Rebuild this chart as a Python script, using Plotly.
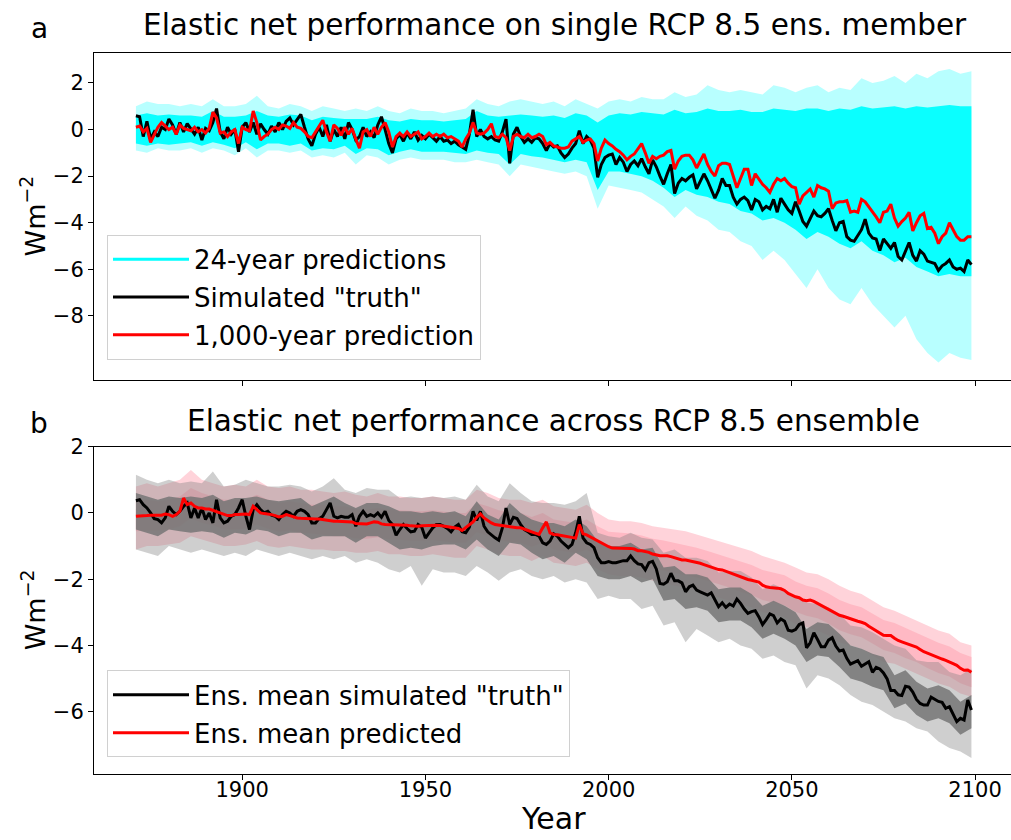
import plotly.graph_objects as go

# ---------------- data ----------------
years = list(range(1871, 2100))
env_years = list(range(1871, 2100, 3))

# Panel a: single ensemble member
truth_a = [
    0.59, 0.55, -0.3, 0.35, -0.4, -0.1, -0.3, 0.1, 0.0, 0.45,
    0.2, -0.2, 0.3, -0.1, 0.25, 0.0, -0.2, 0.1, -0.45, 0.05,
    -0.05, 0.3, 0.9, -0.1, -0.4, 0.1, -0.2, 0.0, -0.95, 0.1,
    0.3, -0.1, 0.3, -0.2, 0.25, 0.0, -0.2, 0.15, -0.1, 0.3,
    0.0, 0.35, 0.5, 0.2, 0.4, 0.65, 0.1, -0.4, -0.7, -0.2,
    0.1, -0.3, 0.2, -0.5, 0.0, -0.3, 0.1, -0.4, 0.3, 0.0,
    -0.45, -0.3, 0.1, -0.3, -0.1, -0.35, 0.2, 0.55, 0.0, -0.6,
    -1.0, -0.4, -0.2, -0.5, -0.15, -0.4, -0.1, -0.45, -0.25, -0.4,
    -0.2, -0.35, -0.5, -0.3, -0.5, -0.45, -0.6, -0.5, -0.65, -0.75,
    -0.85, -0.2, 0.85, -0.3, 0.0, -0.3, -0.4, -0.3, -0.45, -0.5,
    -0.1, 0.45, -1.45, -0.2, 0.1, -0.3, -0.55, -0.4, -0.55, -0.35,
    -0.4, -0.6, -0.9, -0.6, -0.75, -0.7, -1.0, -1.2, -1.05, -0.8,
    -0.6, -0.05, -0.6, -0.3, -0.45, -0.8, -2.05, -1.5, -1.2, -1.1,
    -1.05, -1.5, -1.2, -1.4, -1.8, -1.5, -1.35, -1.55, -1.25, -1.6,
    -1.9, -1.3, -1.6, -2.0, -2.35, -1.9, -1.5, -2.75, -2.3, -2.1,
    -2.2, -2.05, -1.95, -2.55, -2.2, -1.9, -2.2, -2.6, -2.95, -2.6,
    -2.1, -2.4, -2.4, -2.9, -3.2, -3.0, -2.9, -3.05, -3.45, -3.0,
    -3.1, -3.45, -3.3, -3.4, -3.0, -3.55, -2.95, -3.2, -3.45, -3.6,
    -3.1, -3.5, -3.95, -4.15, -3.8, -3.5, -3.7, -3.75, -3.6, -3.4,
    -3.9, -4.35, -4.0, -3.95, -4.6, -4.75, -4.8, -4.55, -4.3, -3.85,
    -4.45, -4.65, -4.7, -5.2, -4.7, -4.9, -5.1, -4.85, -5.45, -5.6,
    -5.2, -4.85, -5.4, -5.65, -5.2, -5.35, -5.65, -5.7, -5.75, -6.05,
    -5.85, -5.75, -5.6, -5.9, -6.0, -5.95, -6.1, -5.6, -5.8,
]
pred_a = [
    0.1, 0.15, -0.1, 0.05, -0.55, -0.2, 0.1, 0.3, 0.15, 0.0,
    0.1, -0.2, 0.2, 0.05, 0.0, -0.05, 0.1, -0.1, 0.0, -0.15,
    0.05, 0.75, 0.5, -0.15, -0.1, -0.3, -0.1, 0.0, -0.6, 0.1,
    0.0, -0.05, 0.8, 0.3, -0.45, -0.3, -0.2, 0.0, 0.1, 0.0,
    0.2, 0.15, 0.05, 0.3, 0.1, 0.05, -0.1, -0.3, -0.35, -0.1,
    0.1, 0.4, -0.1, -0.5, 0.2, 0.05, -0.25, 0.1, -0.2, 0.05,
    -0.4, -0.8, -0.1, 0.0, -0.3, 0.1, -0.2, 0.1, 0.3, -0.1,
    -0.75, -0.3, -0.15, -0.3, -0.1, -0.3, -0.2, -0.1, -0.4, -0.3,
    -0.15, -0.3, -0.2, -0.3, -0.2, -0.35, -0.3, -0.4, -0.5, -0.75,
    -0.4, -0.15, 0.3, -0.15, -0.2, -0.15, 0.0, 0.25, -0.3, -0.35,
    -0.2, -0.35, -0.9, -0.3, -0.2, -0.3, -0.35, -0.2, -0.35, -0.3,
    -0.2, -0.3, -0.65, -0.55, -0.7, -0.75, -0.8, -0.8, -0.75, -0.5,
    -0.4, -0.3, -0.55, -0.45, -0.4, -0.6, -1.35, -0.8, -0.45, -0.6,
    -0.7, -0.85, -0.95, -1.1, -1.3, -1.15, -1.05, -0.85, -0.6, -1.0,
    -1.45, -1.15, -1.25, -1.15, -1.1, -0.95, -0.9, -1.7, -1.35, -1.15,
    -1.1, -1.1, -1.3, -1.65, -1.35, -1.05, -1.5, -1.8, -2.0, -1.55,
    -1.45, -1.45, -1.5, -2.0, -2.5, -2.1, -1.7, -1.7, -2.4, -1.9,
    -2.15, -2.35, -2.5, -2.7, -2.35, -2.1, -2.2, -2.1, -2.3, -2.45,
    -2.5, -3.2, -2.85, -2.7, -2.55, -2.9, -2.4, -2.5, -2.55, -2.65,
    -3.4, -3.15, -3.1, -3.1, -3.05, -3.55, -3.5, -3.55, -3.0, -3.1,
    -3.3, -3.55, -3.75, -4.0, -3.55, -3.5, -3.2, -3.8, -4.15, -3.95,
    -3.8, -3.55, -4.35, -4.0, -3.7, -3.6, -4.25, -4.2, -4.45, -4.9,
    -4.6, -4.45, -4.0, -4.3, -4.6, -4.75, -4.75, -4.6, -4.6,
]
# spread of the 24-year predictions (every 3rd year)
a_hi_out = [
    1.0, 1.2, 1.1, 1.1, 1.0, 1.1, 1.0, 1.3, 1.0, 1.0,
    1.1, 1.45, 1.0, 0.9, 1.1, 1.0, 0.8, 1.0, 0.9, 0.8,
    0.9, 0.8, 1.0, 0.8, 0.7, 0.9, 0.8, 0.8, 0.7, 0.8,
    0.9, 1.3, 1.1, 1.0, 1.2, 1.3, 1.2, 1.1, 1.2, 1.0,
    1.3, 1.1, 0.9, 1.2, 1.3, 1.2, 1.4, 1.3, 1.3, 1.6,
    1.4, 1.5, 1.9, 1.7, 1.6, 1.7, 1.6, 1.5, 1.9, 1.8,
    1.6, 1.8, 1.9, 1.6, 1.8, 1.7, 2.2, 2.0, 2.1, 2.3,
    2.0, 2.4, 2.2, 2.5, 2.6, 2.4, 2.5,
]
a_lo_out = [
    -0.9, -1.0, -0.8, -0.9, -0.9, -0.8, -1.0, -0.8, -0.9, -1.1,
    -0.8, -1.2, -0.9, -0.9, -1.0, -0.9, -1.2, -1.1, -1.2, -1.0,
    -1.5, -1.1, -1.2, -1.5, -1.3, -1.2, -1.3, -1.3, -1.3, -1.4,
    -1.4, -1.3, -1.4, -1.5, -2.0, -1.5, -1.6, -1.7, -1.8, -1.9,
    -1.8, -2.0, -3.4, -2.4, -2.5, -2.6, -2.7, -3.0, -3.3, -3.8,
    -3.3, -3.7, -3.9, -4.3, -4.4, -4.8, -5.0, -5.6, -5.2, -5.6,
    -6.2, -6.8, -6.0, -6.8, -7.3, -7.5, -6.8, -7.5, -8.0, -8.5,
    -8.0, -9.0, -9.6, -10.0, -9.6, -9.8, -9.9,
]
a_hi_core = [
    0.6, 0.7, 0.6, 0.65, 0.6, 0.6, 0.55, 0.8, 0.55, 0.55,
    0.6, 0.8, 0.6, 0.55, 0.65, 0.6, 0.4, 0.55, 0.5, 0.45,
    0.45, 0.45, 0.55, 0.4, 0.35, 0.45, 0.4, 0.4, 0.35, 0.4,
    0.45, 0.8, 0.6, 0.55, 0.6, 0.65, 0.6, 0.55, 0.6, 0.5,
    0.7, 0.6, 0.3, 0.6, 0.7, 0.65, 0.75, 0.7, 0.65, 0.85,
    0.7, 0.75, 0.9, 0.8, 0.8, 0.85, 0.75, 0.75, 0.9, 0.85,
    0.8, 0.9, 0.9, 0.8, 0.9, 0.85, 1.0, 0.9, 0.95, 1.0,
    0.9, 1.0, 0.95, 1.0, 1.05, 1.0, 1.0,
]
a_lo_core = [
    -0.6, -0.7, -0.6, -0.65, -0.6, -0.55, -0.7, -0.55, -0.65, -0.8,
    -0.55, -0.85, -0.6, -0.6, -0.7, -0.6, -0.9, -0.8, -0.85, -0.7,
    -1.05, -0.8, -0.85, -1.1, -0.95, -0.85, -0.95, -0.95, -0.95, -1.0,
    -1.05, -0.9, -1.0, -1.05, -1.5, -1.05, -1.15, -1.2, -1.3, -1.4,
    -1.3, -1.4, -2.6, -1.8, -1.8, -1.9, -2.0, -2.2, -2.5, -2.9,
    -2.6, -2.8, -2.9, -3.1, -3.2, -3.5, -3.6, -3.9, -3.8, -4.0,
    -4.3, -4.7, -4.4, -4.6, -4.9, -5.1, -4.8, -5.2, -5.4, -5.7,
    -5.5, -5.9, -6.1, -6.3, -6.2, -6.3, -6.3,
]

# Panel b: ensemble means
truth_b = [
    0.37, 0.4, 0.25, 0.15, 0.0, -0.17, -0.2, -0.3, -0.15, 0.2,
    0.05, -0.05, 0.05, 0.2, 0.3, -0.15, 0.15, -0.15, 0.15, -0.2,
    0.0, -0.3, 0.4, -0.15, -0.3, -0.25, -0.1, -0.05, 0.15, 0.4,
    -0.1, -0.5, 0.1, 0.25, 0.1, 0.0, 0.05, -0.07, -0.1, -0.2,
    -0.05, 0.05, 0.0, -0.1, 0.05, 0.1, 0.05, -0.05, -0.3, -0.3,
    -0.17, -0.1, 0.1, 0.3, -0.1, -0.15, -0.1, -0.13, -0.13, -0.05,
    -0.4, -0.1, 0.05, -0.1, -0.05, -0.1, 0.0, -0.13, 0.05, -0.23,
    -0.35, -0.67, -0.5, -0.35, -0.47, -0.57, -0.55, -0.35, -0.43, -0.76,
    -0.6, -0.45, -0.35, -0.35, -0.4, -0.47, -0.57, -0.43, -0.35, -0.57,
    -0.6, -0.43, 0.05, -0.23, 0.05, -0.4, -0.57, -0.67, -0.75, -0.82,
    -0.45, 0.15, -0.35, -0.13, -0.17, -0.35, -0.5, -0.57, -0.65, -0.65,
    -0.7, -0.9, -0.95, -0.85, -0.63, -0.7, -0.85, -0.95, -1.05, -0.95,
    -0.6, -0.1, -0.75, -0.9, -0.95, -1.05, -1.35, -1.5, -1.5, -1.47,
    -1.5, -1.5, -1.46, -1.44, -1.44, -1.3, -1.44, -1.54, -1.56, -1.72,
    -1.5, -1.46, -1.69, -2.13, -2.15, -2.08, -1.82, -2.05, -2.05, -2.11,
    -2.38, -2.23, -2.18, -2.33, -2.38, -2.43, -2.48, -2.41, -2.6, -2.83,
    -2.71, -2.85, -2.75, -2.81, -2.6, -2.73, -2.9, -3.03, -2.98, -2.95,
    -3.14, -3.37, -3.22, -3.05, -3.1, -3.32, -3.2, -3.27, -3.54, -3.57,
    -3.52, -3.37, -3.32, -4.07, -3.92, -3.62, -3.82, -4.04, -4.04, -3.84,
    -3.77, -4.02, -4.17, -4.14, -4.39, -4.56, -4.51, -4.46, -4.63, -4.56,
    -4.49, -4.81, -4.66, -4.71, -4.83, -5.01, -5.36, -5.36, -5.49, -5.51,
    -5.23, -5.26, -5.41, -5.63, -5.75, -5.8, -5.8, -5.56, -5.63, -5.69,
    -5.72, -5.9, -5.85, -6.1, -6.3, -6.2, -6.25, -5.65, -5.95,
]
pred_b = [
    -0.1, -0.1, -0.08, -0.08, -0.07, -0.07, -0.08, -0.07, -0.03, -0.05,
    -0.1, -0.05, 0.05, 0.45, 0.25, 0.3, 0.2, 0.15, 0.15, 0.12,
    0.12, 0.08, 0.05, 0.0, -0.05, -0.08, -0.08, -0.05, -0.05, -0.03,
    -0.03, -0.05, 0.2, 0.1, 0.0, -0.02, -0.03, -0.05, -0.08, -0.12,
    -0.1, -0.05, -0.08, -0.12, -0.15, -0.16, -0.17, -0.17, -0.17, -0.18,
    -0.18, -0.2, -0.22, -0.22, -0.25, -0.25, -0.25, -0.25, -0.27, -0.27,
    -0.32, -0.33, -0.33, -0.33, -0.3, -0.27, -0.28, -0.33, -0.35, -0.35,
    -0.35, -0.35, -0.36, -0.37, -0.37, -0.39, -0.4, -0.4, -0.39, -0.38,
    -0.37, -0.37, -0.37, -0.38, -0.4, -0.41, -0.43, -0.45, -0.47, -0.53,
    -0.45, -0.35, -0.27, -0.13, -0.03, -0.15, -0.23, -0.3, -0.35, -0.37,
    -0.39, -0.41, -0.43, -0.43, -0.45, -0.45, -0.5, -0.53, -0.57, -0.6,
    -0.65, -0.45, -0.27, -0.6, -0.65, -0.66, -0.68, -0.71, -0.74, -0.76,
    -0.76, -0.35, -0.63, -0.66, -0.72, -0.79, -0.86, -0.92, -0.97, -1.02,
    -1.06, -1.06, -1.06, -1.06, -1.07, -1.07, -1.09, -1.14, -1.14, -1.16,
    -1.19, -1.24, -1.27, -1.29, -1.29, -1.29, -1.32, -1.36, -1.39, -1.42,
    -1.42, -1.44, -1.46, -1.5, -1.52, -1.56, -1.6, -1.64, -1.69, -1.71,
    -1.72, -1.76, -1.8, -1.84, -1.88, -1.93, -1.98, -2.01, -2.03, -2.06,
    -2.09, -2.18, -2.23, -2.25, -2.25, -2.27, -2.29, -2.34, -2.43, -2.49,
    -2.53, -2.56, -2.63, -2.65, -2.63, -2.67, -2.73, -2.78, -2.83, -2.89,
    -2.95, -3.03, -3.09, -3.12, -3.16, -3.21, -3.24, -3.27, -3.3, -3.34,
    -3.42, -3.49, -3.55, -3.62, -3.69, -3.7, -3.7, -3.78, -3.85, -3.89,
    -3.93, -3.95, -4.0, -4.05, -4.12, -4.19, -4.23, -4.28, -4.33, -4.38,
    -4.41, -4.45, -4.49, -4.55, -4.6, -4.69, -4.75, -4.74, -4.81,
]
# spread of members, simulated (grey) and predicted (pink), every 3rd year
g_hi_out = [
    1.15, 1.0, 0.9, 1.0, 0.9, 0.95, 0.9, 1.25, 0.8, 0.85,
    1.0, 0.9, 0.8, 0.8, 0.85, 0.8, 0.65, 0.8, 1.05, 0.7,
    0.6, 0.75, 0.7, 0.7, 0.45, 0.5, 0.45, 0.5, 0.45, 0.5,
    0.4, 0.85, 0.5, 0.35, 0.9, 0.6, 0.35, 0.3, 0.3, 0.25,
    0.35, 0.6, -0.6, -0.7, -0.75, -0.6, -0.75, -0.8, -1.2, -1.1,
    -1.35, -1.35, -1.45, -1.8, -1.75, -1.75, -1.95, -2.3, -2.15, -2.3,
    -2.55, -2.7, -2.75, -2.85, -3.05, -3.4, -3.45, -3.6, -3.8, -4.0,
    -4.1, -4.45, -4.5, -4.5, -4.8, -4.9, -4.7,
]
g_lo_out = [
    -1.1, -1.2, -1.3, -1.0, -1.1, -1.2, -1.1, -1.2, -1.3, -1.2,
    -1.3, -1.1, -1.2, -1.3, -1.2, -1.3, -1.4, -1.3, -1.4, -1.3,
    -1.5, -1.4, -1.5, -1.7, -1.8, -1.6, -2.2, -1.7, -1.8, -1.8,
    -1.9, -1.6, -1.8, -2.05, -1.8, -1.7, -1.9, -2.0, -1.9, -2.1,
    -2.0, -2.1, -2.6, -2.5, -2.6, -2.6, -2.9, -2.8, -3.4, -3.3,
    -3.9, -3.5, -3.7, -3.9, -3.8, -4.0, -4.1, -4.4, -4.3, -4.5,
    -4.6, -5.3, -4.9, -5.0, -5.2, -5.5, -5.7, -5.8, -6.0, -6.2,
    -6.3, -6.5, -6.6, -6.9, -7.1, -7.2, -7.4,
]
g_hi_core = [
    0.6, 0.5, 0.4, 0.5, 0.45, 0.5, 0.45, 0.55, 0.35, 0.45,
    0.45, 0.5, 0.4, 0.35, 0.4, 0.45, 0.2, 0.35, 0.5, 0.3,
    0.15, 0.3, 0.3, 0.2, 0.05, 0.05, 0.0, 0.05, 0.0, 0.05,
    -0.1, 0.35, -0.05, -0.2, 0.3, 0.0, -0.2, -0.3, -0.3, -0.4,
    -0.2, -0.4, -0.85, -1.0, -1.0, -0.9, -1.1, -1.05, -1.65, -1.6,
    -1.85, -1.85, -1.95, -2.3, -2.25, -2.25, -2.45, -2.8, -2.65, -2.8,
    -3.0, -3.5, -3.3, -3.35, -3.65, -4.0, -4.1, -4.25, -4.35, -4.9,
    -4.75, -5.1, -5.3, -5.2, -5.35, -5.7, -5.5,
]
g_lo_core = [
    -0.5, -0.6, -0.7, -0.5, -0.55, -0.6, -0.55, -0.6, -0.75, -0.6,
    -0.65, -0.5, -0.55, -0.7, -0.6, -0.6, -0.8, -0.7, -0.7, -0.7,
    -0.9, -0.7, -0.7, -0.9, -1.1, -1.05, -1.1, -1.0, -0.95, -0.95,
    -1.1, -0.8, -1.1, -1.3, -0.9, -0.95, -1.2, -1.4, -1.3, -1.5,
    -1.2, -1.4, -1.9, -2.0, -2.0, -1.9, -2.1, -2.0, -2.65, -2.6,
    -2.9, -2.85, -2.95, -3.3, -3.25, -3.25, -3.45, -3.8, -3.65, -3.8,
    -4.0, -4.5, -4.3, -4.35, -4.65, -5.0, -5.1, -5.25, -5.35, -5.9,
    -5.75, -6.1, -6.3, -6.2, -6.35, -6.7, -6.5,
]
p_hi_out = [
    0.8, 0.9, 0.8, 0.9, 1.0, 1.3, 1.0, 0.9, 0.8, 0.85,
    0.8, 1.0, 0.8, 0.75, 0.8, 0.7, 0.7, 0.65, 0.6, 0.65,
    0.55, 0.5, 0.6, 0.5, 0.5, 0.45, 0.45, 0.5, 0.45, 0.4,
    0.4, 0.7, 0.6, 0.45, 0.4, 0.4, 0.3, 0.4, 0.2, 0.15,
    0.1, 0.25, 0.0, -0.2, -0.25, -0.25, -0.3, -0.4, -0.45, -0.5,
    -0.55, -0.65, -0.75, -0.85, -0.95, -1.05, -1.15, -1.3, -1.4, -1.5,
    -1.65, -1.8, -1.85, -2.0, -2.2, -2.35, -2.45, -2.65, -2.85, -2.95,
    -3.1, -3.25, -3.4, -3.55, -3.65, -3.9, -4.0,
]
p_lo_out = [
    -1.1, -1.0, -1.0, -0.95, -0.9, -0.7, -0.8, -0.9, -1.0, -1.0,
    -0.95, -0.85, -1.0, -1.05, -1.0, -1.05, -1.1, -1.1, -1.15, -1.15,
    -1.2, -1.2, -1.15, -1.25, -1.25, -1.3, -1.3, -1.25, -1.3, -1.35,
    -1.35, -1.0, -1.1, -1.25, -1.3, -1.3, -1.45, -1.3, -1.5, -1.55,
    -1.6, -1.5, -1.7, -1.85, -1.9, -1.9, -1.95, -2.05, -2.1, -2.2,
    -2.25, -2.35, -2.45, -2.55, -2.65, -2.75, -2.85, -3.0, -3.05, -3.15,
    -3.35, -3.45, -3.55, -3.7, -3.9, -4.0, -4.1, -4.3, -4.5, -4.55,
    -4.7, -4.85, -5.0, -5.15, -5.25, -5.45, -5.55,
]
p_hi_core = [
    0.35, 0.4, 0.35, 0.4, 0.5, 0.75, 0.6, 0.5, 0.4, 0.4,
    0.4, 0.55, 0.4, 0.3, 0.35, 0.3, 0.25, 0.25, 0.2, 0.2,
    0.12, 0.1, 0.15, 0.1, 0.08, 0.05, 0.05, 0.08, 0.05, 0.0,
    0.0, 0.3, 0.2, 0.08, 0.02, 0.0, -0.12, 0.0, -0.2, -0.25,
    -0.3, -0.2, -0.4, -0.57, -0.6, -0.62, -0.68, -0.78, -0.83, -0.9,
    -0.96, -1.05, -1.15, -1.25, -1.35, -1.47, -1.57, -1.72, -1.8, -1.88,
    -2.07, -2.2, -2.27, -2.43, -2.63, -2.76, -2.85, -3.03, -3.23, -3.32,
    -3.47, -3.6, -3.77, -3.92, -4.03, -4.23, -4.35,
]
p_lo_core = [
    -0.55, -0.53, -0.53, -0.5, -0.4, -0.15, -0.3, -0.37, -0.5, -0.5,
    -0.48, -0.35, -0.48, -0.57, -0.53, -0.61, -0.62, -0.65, -0.7, -0.7,
    -0.77, -0.78, -0.73, -0.8, -0.81, -0.84, -0.84, -0.82, -0.85, -0.9,
    -0.9, -0.58, -0.68, -0.82, -0.88, -0.9, -1.02, -0.9, -1.1, -1.16,
    -1.21, -1.11, -1.31, -1.47, -1.51, -1.52, -1.59, -1.69, -1.74, -1.81,
    -1.87, -1.95, -2.05, -2.16, -2.25, -2.38, -2.48, -2.63, -2.7, -2.79,
    -2.98, -3.1, -3.18, -3.34, -3.54, -3.66, -3.75, -3.94, -4.14, -4.23,
    -4.38, -4.5, -4.68, -4.83, -4.94, -5.14, -5.26,
]

x_ticks = [1900, 1950, 2000, 2050, 2100]
ya_ticks = [2, 0, -2, -4, -6, -8]
yb_ticks = [2, 0, -2, -4, -6]

title_a = "Elastic net performance on single RCP 8.5 ens. member"
title_b = "Elastic net performance across RCP 8.5 ensemble"
names_a = ["24-year predictions", 'Simulated "truth"', "1,000-year prediction"]
names_b = ['Ens. mean simulated "truth"', "Ens. mean predicted"]

# ---------------- layout geometry (pixels) ----------------
W, H = 1011, 840
XL, XR = 94, 1011
A_T, A_B = 42, 373
B_T, B_B = 441, 773
FONT = "DejaVu Sans"

fig = go.Figure()


def band(hi, lo, color, xa, ya):
    fig.add_trace(go.Scatter(
        x=env_years + env_years[::-1], y=hi + lo[::-1],
        fill="toself", fillcolor=color, mode="lines", line=dict(width=0),
        hoverinfo="skip", showlegend=False, xaxis=xa, yaxis=ya))


# Panel a
band(a_hi_out, a_lo_out, "rgba(0,255,255,0.28)", "x", "y")
band(a_hi_core, a_lo_core, "rgba(0,255,255,0.95)", "x", "y")
fig.add_trace(go.Scatter(x=[None], y=[None], mode="lines", name=names_a[0],
                         line=dict(color="#00FFFF", width=3), legend="legend",
                         legendgroup="a1", xaxis="x", yaxis="y"))
fig.add_trace(go.Scatter(x=years, y=truth_a, mode="lines", name=names_a[1],
                         line=dict(color="black", width=3), legend="legend",
                         legendgroup="a2", xaxis="x", yaxis="y"))
fig.add_trace(go.Scatter(x=years, y=pred_a, mode="lines", name=names_a[2],
                         line=dict(color="red", width=3), legend="legend",
                         legendgroup="a3", xaxis="x", yaxis="y"))

# Panel b
band(p_hi_out, p_lo_out, "rgba(255,192,203,0.7)", "x2", "y2")
band(p_hi_core, p_lo_core, "rgba(255,182,193,0.9)", "x2", "y2")
band(g_hi_out, g_lo_out, "rgba(128,128,128,0.38)", "x2", "y2")
band(g_hi_core, g_lo_core, "rgba(118,118,118,0.85)", "x2", "y2")
fig.add_trace(go.Scatter(x=years, y=truth_b, mode="lines", name=names_b[0],
                         line=dict(color="black", width=3), legend="legend2",
                         legendgroup="b1", xaxis="x2", yaxis="y2"))
fig.add_trace(go.Scatter(x=years, y=pred_b, mode="lines", name=names_b[1],
                         line=dict(color="red", width=3), legend="legend2",
                         legendgroup="b2", xaxis="x2", yaxis="y2"))

axis_common = dict(showline=True, linecolor="black", linewidth=1,
                   ticks="outside", ticklen=5, tickwidth=1, tickcolor="black",
                   showgrid=False, zeroline=False,
                   tickfont=dict(family=FONT, size=21, color="black"))
xr = [1859.56, 2109.8]

legend_common = dict(xanchor="left", yanchor="top", itemwidth=76,
                     bgcolor="rgba(255,255,255,0.8)", bordercolor="#d0d0d0",
                     borderwidth=1, font=dict(family=FONT, size=26, color="black"),
                     tracegroupgap=1)

fig.update_layout(
    width=W, height=H,
    margin=dict(l=0, r=0, t=0, b=0),
    paper_bgcolor="white", plot_bgcolor="white",
    font=dict(family=FONT, color="black"),
    xaxis=dict(domain=[XL / W, XR / W], range=xr, anchor="y",
               tickvals=x_ticks, showticklabels=False, mirror=True, **axis_common),
    yaxis=dict(domain=[1 - A_B / H, 1 - A_T / H], range=[-10.74, 3.27], anchor="x",
               tickvals=ya_ticks, mirror=False, **axis_common),
    xaxis2=dict(domain=[XL / W, XR / W], range=xr, anchor="y2", matches="x",
                tickvals=x_ticks, mirror=True, ticklabelstandoff=-8, **axis_common),
    yaxis2=dict(domain=[1 - B_B / H, 1 - B_T / H], range=[-7.88, 2.0], anchor="x2",
                tickvals=yb_ticks, mirror=False, **axis_common),
    legend=dict(x=107 / W, y=1 - 226 / H, **legend_common),
    legend2=dict(x=107 / W, y=1 - 668 / H, **legend_common),
    showlegend=True,
)

ann = []
ann.append(dict(text=title_a, x=555 / W, y=1 - 13 / H, xref="paper", yref="paper",
                showarrow=False, xanchor="center", yanchor="middle",
                font=dict(family=FONT, size=29.5, color="black")))
ann.append(dict(text=title_b, x=553 / W, y=1 - 415 / H, xref="paper", yref="paper",
                showarrow=False, xanchor="center", yanchor="middle",
                font=dict(family=FONT, size=29.5, color="black")))
ann.append(dict(text="a", x=39 / W, y=1 - 17 / H, xref="paper", yref="paper",
                showarrow=False, xanchor="center", yanchor="middle",
                font=dict(family=FONT, size=28, color="black")))
ann.append(dict(text="b", x=39 / W, y=1 - 417 / H, xref="paper", yref="paper",
                showarrow=False, xanchor="center", yanchor="middle",
                font=dict(family=FONT, size=28, color="black")))
ann.append(dict(text="Wm<sup>−2</sup>", x=33 / W, y=1 - (A_T + A_B) / 2 / H,
                xref="paper", yref="paper", showarrow=False, textangle=-90,
                xanchor="center", yanchor="middle",
                font=dict(family=FONT, size=27, color="black")))
ann.append(dict(text="Wm<sup>−2</sup>", x=33 / W, y=1 - (B_T + B_B) / 2 / H,
                xref="paper", yref="paper", showarrow=False, textangle=-90,
                xanchor="center", yanchor="middle",
                font=dict(family=FONT, size=27, color="black")))
ann.append(dict(text="Year", x=553 / W, y=1 - 818 / H, xref="paper", yref="paper",
                showarrow=False, xanchor="center", yanchor="middle",
                font=dict(family=FONT, size=30, color="black")))
fig.update_layout(annotations=ann)

fig.write_html("out.html")
